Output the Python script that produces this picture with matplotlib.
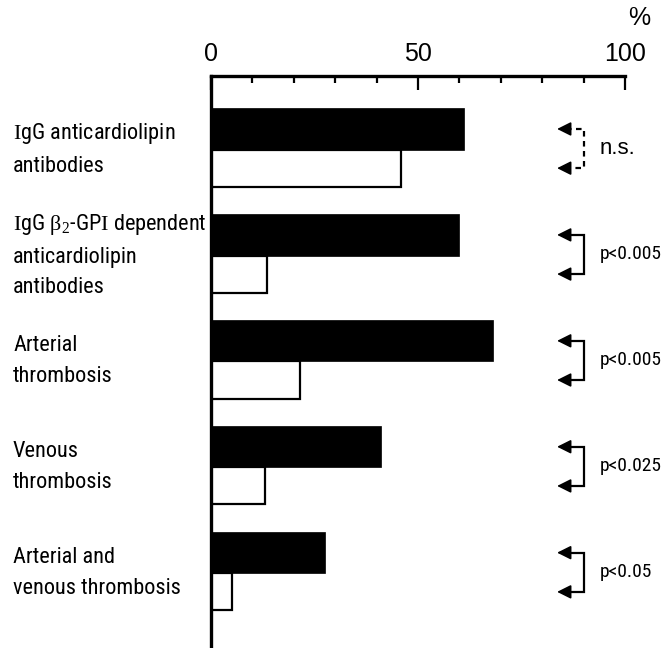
import matplotlib.pyplot as plt
import matplotlib.transforms as mtransforms
import numpy as np

narrow = ['Roboto Condensed', 'Archivo Narrow', 'Liberation Sans', 'DejaVu Sans']
plt.rcParams['font.family'] = narrow
plt.rcParams['mathtext.fontset'] = 'custom'
plt.rcParams['mathtext.rm'] = 'Liberation Serif'

labels = ['$\\mathrm{I}$gG anticardiolipin\nantibodies',
          '$\\mathrm{I}$gG $\\mathrm{\\beta}_2$-GP$\\mathrm{I}$ dependent\nanticardiolipin\nantibodies',
          'Arterial\nthrombosis',
          'Venous\nthrombosis',
          'Arterial and\nvenous thrombosis']
black_vals = [61, 60, 68, 41, 27.5]
white_vals = [46, 13.5, 21.5, 13, 5]
pvals = ['n.s.', 'p<0.005', 'p<0.005', 'p<0.025', 'p<0.05']

fig = plt.figure(figsize=(6.72, 6.48), dpi=100)
ax = fig.add_axes([211/672, 0, 414/672, 572/648])

idx = np.arange(len(labels))
yb = idx + 0.5
yw = idx + 0.87
ax.barh(yb, black_vals, height=0.39, color='black', edgecolor='black', linewidth=0.5)
ax.barh(yw, white_vals, height=0.35, color='white', edgecolor='black', linewidth=1.6)

ax.set_xlim(0, 100)
ax.set_ylim(5.4, 0)
for s in ['right', 'bottom']:
    ax.spines[s].set_visible(False)
ax.spines['top'].set_linewidth(2.4)
ax.spines['left'].set_linewidth(2.4)
ax.xaxis.tick_top()
ax.set_xticks([0, 50, 100])
ax.set_xticks(np.arange(10, 100, 10), minor=True)
ax.set_xticklabels(['0', '50', '100'], family='Liberation Sans', fontsize=18)
ax.tick_params(axis='x', which='major', direction='in', length=10, width=1.6, pad=7)
ax.tick_params(axis='x', which='minor', direction='in', length=5, width=1.6)
ax.set_yticks([])

fig.text(639/672, 1 - 18/648, '%', family='Liberation Sans', fontsize=18,
         ha='center', va='center')

trans = mtransforms.blended_transform_factory(fig.transFigure, ax.transData)
for i, lab in enumerate(labels):
    ax.text(13/672, i + 0.69, lab, transform=trans, ha='left', va='center',
            fontsize=16, linespacing=1.6)

x_line, x_tip, head = 90, 83.6, 2.2
for i, p in enumerate(pvals):
    ls = (0, (2.5, 2)) if p == 'n.s.' else '-'
    ax.plot([x_tip + head, x_line, x_line, x_tip + head],
            [yb[i], yb[i], yw[i], yw[i]], color='black', lw=1.6, ls=ls,
            solid_joinstyle='miter')
    for yy in (yb[i], yw[i]):
        ax.annotate('', xy=(x_tip, yy), xytext=(x_tip + head + 0.3, yy),
                    arrowprops=dict(arrowstyle='-|>,head_length=0.7,head_width=0.35',
                                    color='black', lw=1.2, mutation_scale=12,
                                    shrinkA=0, shrinkB=0))
    if p == 'n.s.':
        ax.text(93.8, (yb[i] + yw[i]) / 2, p, family='Liberation Sans', fontsize=16,
                ha='left', va='center', clip_on=False)
    else:
        ax.text(93.8, (yb[i] + yw[i]) / 2, p, fontsize=14,
                ha='left', va='center', clip_on=False)

fig.savefig('out.png', dpi=100)
